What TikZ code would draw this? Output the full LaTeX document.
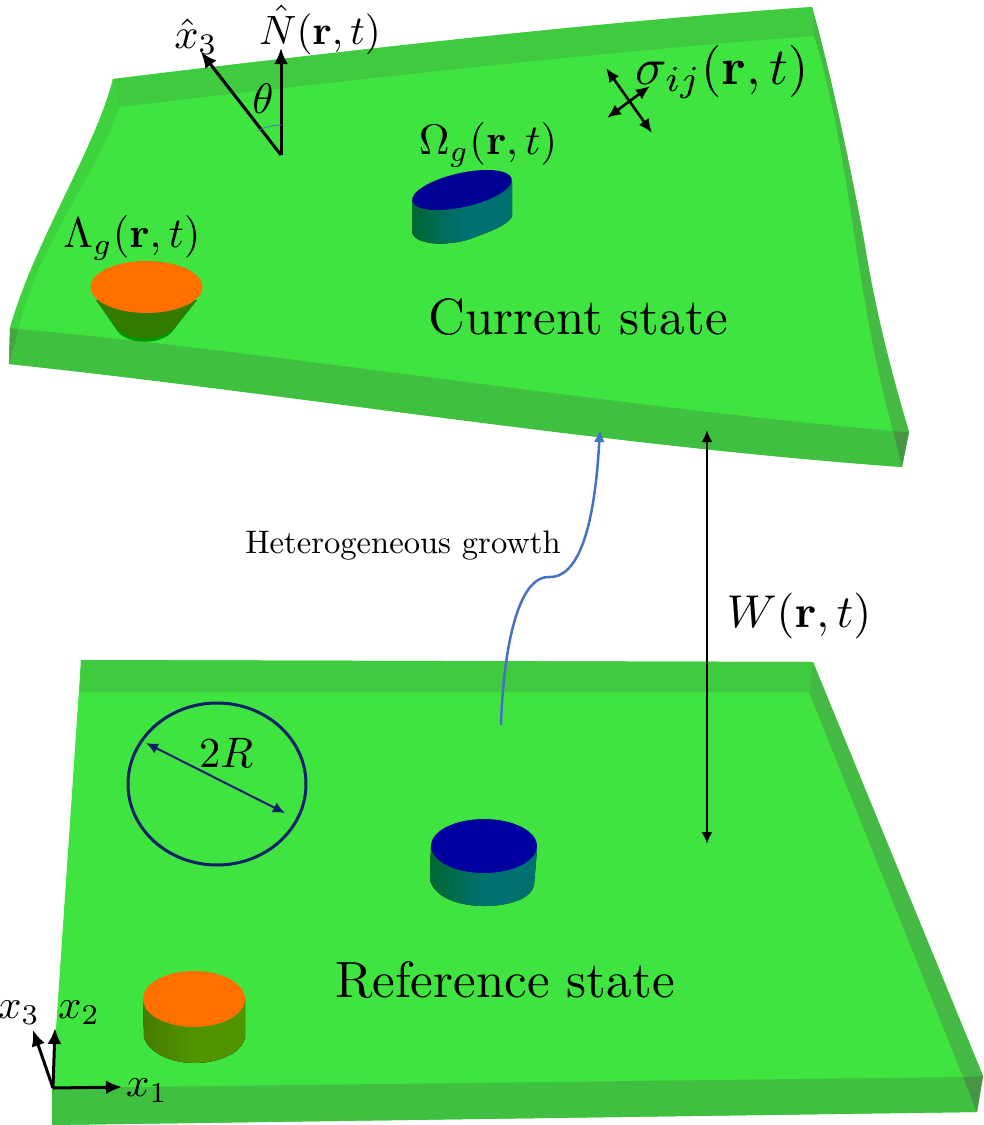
\documentclass[tikz,border=0pt]{standalone}
\usepackage{amsmath}
\usetikzlibrary{arrows.meta}

\definecolor{platetop}{RGB}{64,228,64}
\definecolor{plateback}{RGB}{64,202,64}
\definecolor{plateband}{RGB}{64,192,64}
\definecolor{plateside}{RGB}{68,186,68}
\definecolor{plateleft}{RGB}{62,210,62}
\definecolor{platecorner}{RGB}{70,150,70}
\definecolor{growthorange}{RGB}{255,112,0}
\definecolor{growthblue}{RGB}{0,0,160}
\definecolor{sidedark}{RGB}{0,104,50}
\definecolor{sideteal}{RGB}{0,112,112}
\definecolor{conedark}{RGB}{51,122,0}
\definecolor{oliveleft}{RGB}{72,122,0}
\definecolor{oliveright}{RGB}{80,148,0}
\definecolor{circlenavy}{RGB}{10,32,104}
\definecolor{growtharrow}{RGB}{68,114,196}

\begin{document}
\begin{tikzpicture}[x = 0.5pt, y = -0.5pt, >={Latex[length = 6pt, width = 5.5pt]},
	statelabel/.style = {scale = 2.55},
	mathlabel/.style = {scale = 2.13},
	axislabel/.style = {scale = 2.05},
	bigtip/.style = {>={Latex[length = 8pt, width = 7pt]}},
	vec/.style = {->, bigtip, black, line width = 1.5pt},
	stress/.style = {<->, >={Latex[length = 7pt, width = 6pt]}, black, line width = 1.3pt},
	]
	\useasboundingbox (0, 0) rectangle (984, 1125);
	
	%	current state plate
	\fill[platetop] (113, 79) .. controls (350, 50) and (600, 22) .. (812, 7)
		.. controls (830, 70) and (850, 165) .. (864, 240) .. controls (875, 310) and (892, 375) .. (909, 432)
		-- (902, 467) .. controls (600, 445) and (300, 395) .. (9, 364) -- (10, 328)
		.. controls (35, 240) and (95, 150) .. (113, 79) -- cycle;
	\fill[plateleft] (10, 328) .. controls (35, 240) and (95, 150) .. (113, 79) -- (119, 107)
		.. controls (100, 170) and (40, 240) .. (18, 330) -- cycle;
	\fill[plateback] (113, 79) .. controls (350, 50) and (600, 22) .. (812, 7)
		-- (814, 36) .. controls (600, 52) and (350, 80) .. (119, 107) -- cycle;
	\fill[plateside] (812, 7) .. controls (830, 70) and (850, 165) .. (864, 240)
		.. controls (875, 310) and (892, 375) .. (909, 432) -- (893, 431)
		.. controls (875, 365) and (865, 305) .. (855, 240) .. controls (845, 170) and (830, 85) .. (814, 36) -- cycle;
	\fill[plateband] (10, 328) .. controls (300, 355) and (600, 405) .. (893, 431)
		-- (902, 467) .. controls (600, 445) and (300, 395) .. (9, 364) -- cycle;
	\fill[platecorner] (893, 431) -- (909, 432) -- (902, 467) -- cycle;
	\fill[platecorner, opacity = 0.6] (10, 328) -- (18, 330) -- (9, 364) -- cycle;
	
	%	reference state plate
	\fill[platetop] (81, 660) -- (813, 662) -- (983, 1076) -- (977, 1112) -- (52, 1125) -- (52, 1088) -- cycle;
	\fill[plateback] (81, 660) -- (813, 662) -- (809, 692) -- (80, 692) -- cycle;
	\fill[plateside] (813, 662) -- (983, 1076) -- (963, 1077) -- (809, 692) -- cycle;
	\fill[plateband] (52, 1088) -- (963, 1077) -- (977, 1112) -- (52, 1125) -- cycle;
	\fill[platecorner] (963, 1077) -- (983, 1076) -- (977, 1112) -- cycle;
	
	%	orange inclusion, current
	\fill[green!60!black] (96, 300) -- (118, 332) .. controls (130, 345) and (160, 345) .. (172, 332) -- (197, 300) -- cycle;
	\fill[conedark] (96, 300) -- (118, 330) .. controls (130, 341) and (160, 341) .. (172, 330) -- (197, 300) -- cycle;
	\fill[growthorange] (146.5, 287) ellipse (56 and 26);
	
	%	blue inclusion, current
	\fill[left color = sidedark, right color = sideteal, middle color = sideteal]
		(412, 200) -- (412, 232) .. controls (415, 247) and (455, 246) .. (475, 237)
		.. controls (495, 230) and (512, 222) .. (512, 215) -- (512, 182) -- cycle;
	\fill[growthblue!92!black, rotate around = {12.7:(462, 190)}] (462, 190) ellipse (51 and 17);
	
	%	blue inclusion, reference
	\fill[left color = sidedark, right color = sideteal, middle color = sideteal]
		(431, 846) -- (430, 880) .. controls (435, 898) and (460, 906) .. (484, 906)
		.. controls (510, 906) and (532, 898) .. (534, 885) -- (537, 850) -- cycle;
	\fill[growthblue] (484, 846) ellipse (53 and 27);
	
	%	orange inclusion, reference
	\fill[left color = oliveleft, right color = oliveright, middle color = oliveright]
		(143, 999) -- (144, 1037) .. controls (148, 1052) and (170, 1063) .. (194, 1063)
		.. controls (220, 1063) and (243, 1052) .. (245, 1037) -- (245, 999) -- cycle;
	\fill[growthorange] (194, 999) ellipse (51 and 28);
	
	%	circle with diameter
	\draw[circlenavy, line width = 1.5pt] (217, 784) ellipse (89 and 81);
	\coordinate (dleft) at (146, 743);
	\coordinate (dright) at (285, 813);
	\draw[<->, circlenavy, line width = 1pt] (dleft) -- (dright);
	\node[mathlabel] (diam) at (226, 753) {$2R$};
	
	%	normal and rotated axis
	\coordinate (origin) at (281, 155);
	\coordinate (ntip) at (281, 48);
	\coordinate (xtip) at (201, 52);
	\draw[vec] (origin) -- (ntip);
	\draw[vec] (origin) -- (xtip);
	\draw[growtharrow, thin] (257, 131) .. controls (265, 127) and (273, 125) .. (282, 125);
	\node[mathlabel] (theta) at (263, 99) {$\theta$};
	\node[scale = 2.05] (nlabel) at (320, 30) {$\hat{N}(\mathbf{r}, t)$};
	\node[mathlabel] (xlabel) at (196, 37) {$\hat{x}_3$};
	
	%	stress arrows
	\coordinate (sa) at (606, 68);
	\coordinate (sb) at (652, 133);
	\coordinate (sc) at (607, 118);
	\coordinate (sd) at (650, 86);
	\draw[stress] (sa) -- (sb);
	\draw[stress] (sc) -- (sd);
	\node[scale = 2.6] (sigma) at (722, 72) {$\sigma_{ij}(\mathbf{r}, t)$};
	
	%	texts on plates
	\node[mathlabel] (omega) at (488, 145) {$\Omega_g(\mathbf{r}, t)$};
	\node[mathlabel] (lambda) at (132, 238) {$\Lambda_g(\mathbf{r}, t)$};
	\node[statelabel] (current) at (578, 317) {Current state};
	\node[statelabel] (reference) at (505, 980) {Reference state};
	
	%	growth curve
	\coordinate (gstart) at (501, 725);
	\coordinate (gend) at (600, 430);
	\draw[->, growtharrow, line width = 1.25pt] (gstart) .. controls (503, 660) and (515, 578) .. (548, 577)
		.. controls (590, 580) and (597, 480) .. (gend);
	\node[scale = 1.63] (growth) at (403, 546) {Heterogeneous growth};
	
	%	gap between plates
	\coordinate (wtop) at (707, 430);
	\coordinate (wbottom) at (707, 844);
	\draw[<->, black, line width = 1.4pt] (wbottom) -- (wtop);
	\node[scale = 2.3] (wlabel) at (799, 616) {$W(\mathbf{r}, t)$};
	
	%	coordinate axes
	\coordinate (base) at (53, 1088);
	\coordinate (xone) at (122, 1087);
	\coordinate (xtwo) at (55, 1028);
	\coordinate (xthree) at (33, 1030);
	\draw[vec] (base) -- (xone);
	\draw[vec] (base) -- (xtwo);
	\draw[vec] (base) -- (xthree);
	\node[axislabel] (labelone) at (147, 1091) {$x_1$};
	\node[axislabel] (labeltwo) at (79, 1013) {$x_2$};
	\node[axislabel] (labelthree) at (19, 1013) {$x_3$};
\end{tikzpicture}
\end{document}
